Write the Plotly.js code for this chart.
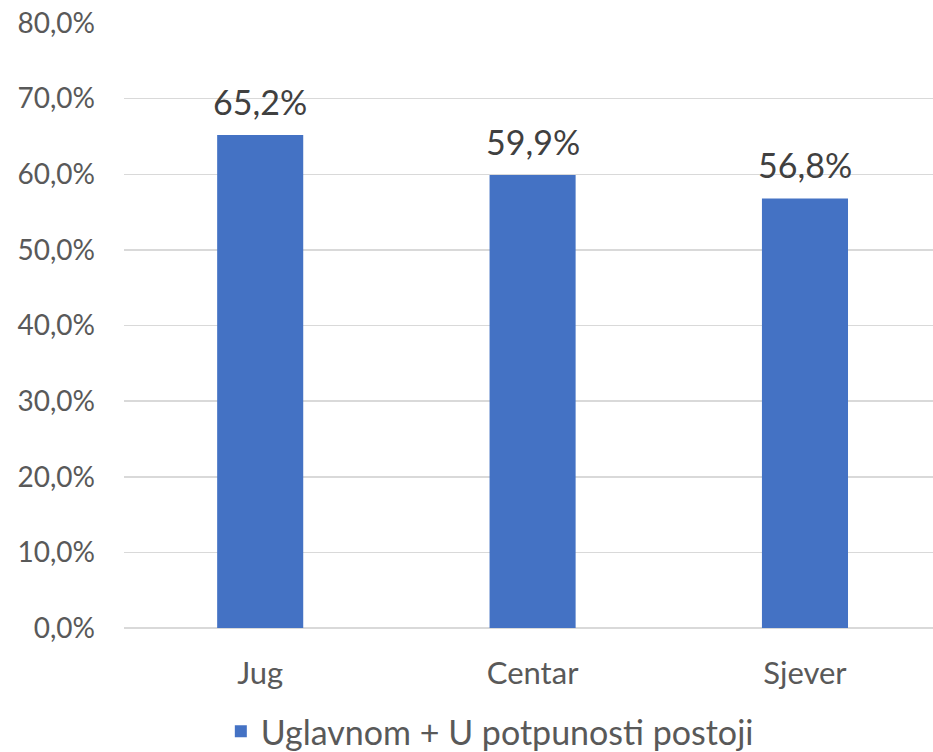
<!DOCTYPE html>
<html>
<head>
<meta charset="utf-8">
<script src="https://cdn.plot.ly/plotly-3.0.1.min.js"></script>
<style>html,body{margin:0;padding:0;background:#fff;}#chart{width:933px;height:752px;}</style>
</head>
<body>
<div id="chart"></div>
<script>
const categories = ["Jug", "Centar", "Sjever"];
const values = [65.2, 59.9, 56.8];
const seriesName = "Uglavnom + U potpunosti postoji";
const yTicks = [0, 10, 20, 30, 40, 50, 60, 70, 80];

const FONT = "Lato, 'Open Sans', sans-serif";
const fmt = v => v.toFixed(1).replace(".", ",") + "%";

const trace = {
  type: "bar",
  x: categories,
  y: values,
  name: seriesName,
  marker: { color: "#4472C4" },
  width: 0.316,
  hoverinfo: "none"
};

const annotations = categories.map((c, i) => ({
  x: c,
  y: values[i],
  xref: "x",
  yref: "y",
  text: fmt(values[i]),
  showarrow: false,
  yanchor: "bottom",
  yshift: 11,
  font: { family: FONT, size: 34, color: "#404040" }
}));

const layout = {
  width: 933,
  height: 752,
  margin: { l: 124, r: 0, t: 23, b: 124, autoexpand: false },
  paper_bgcolor: "#ffffff",
  plot_bgcolor: "#ffffff",
  separators: ",.",
  showlegend: true,
  font: { family: FONT, color: "#595959" },
  annotations: annotations,
  xaxis: {
    type: "category",
    range: [-0.5, 2.47],
    automargin: false,
    showgrid: false,
    zeroline: false,
    showline: false,
    ticks: "",
    ticklabelstandoff: 24,
    tickfont: { family: FONT, size: 31, color: "#595959" }
  },
  yaxis: {
    range: [0, 80],
    automargin: false,
    tickvals: yTicks,
    ticktext: yTicks.map(fmt),
    showgrid: true,
    gridcolor: "#d9d9d9",
    gridwidth: 1.5,
    zeroline: true,
    zerolinecolor: "#d9d9d9",
    zerolinewidth: 1.5,
    showline: false,
    ticks: "",
    ticklabelstandoff: 28,
    tickfont: { family: FONT, size: 28, color: "#595959" }
  },
  legend: {
    orientation: "h",
    xref: "container",
    yref: "container",
    x: 0.525,
    xanchor: "center",
    y: 0.027,
    yanchor: "middle",
    font: { family: FONT, size: 34, color: "#595959" },
    itemwidth: 30
  }
};

Plotly.newPlot("chart", [trace], layout, { displayModeBar: false, staticPlot: true });
</script>
</body>
</html>
